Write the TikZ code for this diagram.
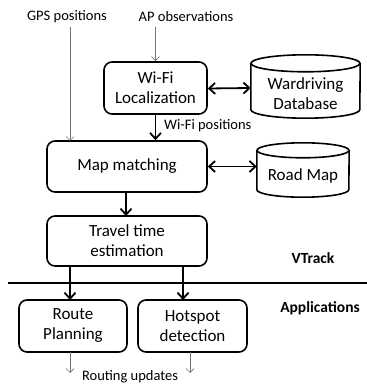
\documentclass[tikz,border=0pt]{standalone}
\usepackage{fontspec}
\setmainfont{Carlito}
\usetikzlibrary{arrows.meta,calc}
\begin{document}
\begin{tikzpicture}[x=1pt,y=1pt,
  box/.style={draw, line width=1.6pt, rounded corners=8pt, align=center, font=\fontsize{17}{20}\selectfont, inner sep=0pt},
  dbtext/.style={align=center, font=\fontsize{17}{20}\selectfont, inner sep=0pt},
  small/.style={font=\fontsize{14.5}{17}\selectfont, inner sep=0pt},
  lbl/.style={font=\bfseries\fontsize{15.5}{18}\selectfont, inner sep=0pt},
  thick arr/.style={line width=1.8pt, -{Straight Barb[length=6pt,width=11pt,line width=1.8pt]}},
  dbl arr/.style={line width=1.8pt, {Straight Barb[length=6pt,width=11pt,line width=1.8pt]}-{Straight Barb[length=6pt,width=11pt,line width=1.8pt]}},
  thin arr/.style={line width=0.7pt, draw=black!55, -{Straight Barb[length=4pt,width=8pt,line width=0.7pt]}},
  cyl/.style={line width=1.6pt}
]
\useasboundingbox (0,0) rectangle (367,386);

% texts on top
\node[small] (gps) at (67,369) {GPS positions};
\node[small] (ap) at (186,369) {AP observations};

% boxes
\node[box, minimum width=103pt, minimum height=52pt] (wifi) at (155.5,298) {Wi-Fi\\Localization};
\node[box, minimum width=160pt, minimum height=51pt] (map) at (127,219.5) {Map matching};
\node[box, minimum width=160pt, minimum height=50pt] (travel) at (127,145) {Travel time\\estimation};
\node[box, minimum width=108pt, minimum height=52pt] (route) at (73,60) {Route\\Planning};
\node[box, minimum width=109pt, minimum height=52pt] (hot) at (192.5,60) {Hotspot\\detection};

% databases
\node[dbtext, minimum width=109pt, minimum height=63pt] (ward) at (305.5,299.5) {};
\node[dbtext] (wardt) at (305.5,292) {Wardriving\\Database};
\draw[cyl] ($(ward.north west)+(0,-8.5)$)
  -- ($(ward.south west)+(0,8.5)$) arc[start angle=180,end angle=360,x radius=54.5,y radius=8.5]
  -- ($(ward.north east)+(0,-8.5)$);
\draw[cyl] ($(ward.north)+(0,-8.5)$) ellipse [x radius=54.5, y radius=8.5];

\node[dbtext, minimum width=92pt, minimum height=54pt] (road) at (303,216) {};
\node[dbtext] (roadt) at (303,210) {Road Map};
\draw[cyl] ($(road.north west)+(0,-7.5)$)
  -- ($(road.south west)+(0,7.5)$) arc[start angle=180,end angle=360,x radius=46,y radius=7.5]
  -- ($(road.north east)+(0,-7.5)$);
\draw[cyl] ($(road.north)+(0,-7.5)$) ellipse [x radius=46, y radius=7.5];

% labels
\node[lbl] (vtrack) at (313,128) {VTrack};
\node[lbl] (apps) at (320,78) {Applications};
\node[small] (upd) at (130,9) {Routing updates};
\node[small, anchor=west] (wpos) at (164,260) {Wi-Fi positions};

% separator
\coordinate (sepL) at (8,103);
\coordinate (sepR) at (367,103);
\draw[line width=1.6pt] (sepL) -- (sepR);

% connectors
\draw[thin arr] (70,359) -- (70,245);
\draw[thin arr] (155.5,359) -- (wifi.north);
\draw[thick arr] (wifi.south) -- (wifi.south |- map.north);
\draw[dbl arr] ($(wifi.east)+(0,-0.5)$) -- ($(ward.west)+(0,-1.5)$);
\draw[dbl arr] ($(map.east)+(0,0)$) -- ($(road.west)+(0,3.5)$);
\draw[thick arr] (126,194) -- (126,170);
\draw[thick arr] (70,120) -- (70,86);
\draw[thick arr] (183,120) -- (183,86);
\draw[thin arr] (70,34) -- (70,13);
\draw[thin arr] (190,34) -- (190,13);
\end{tikzpicture}
\end{document}
